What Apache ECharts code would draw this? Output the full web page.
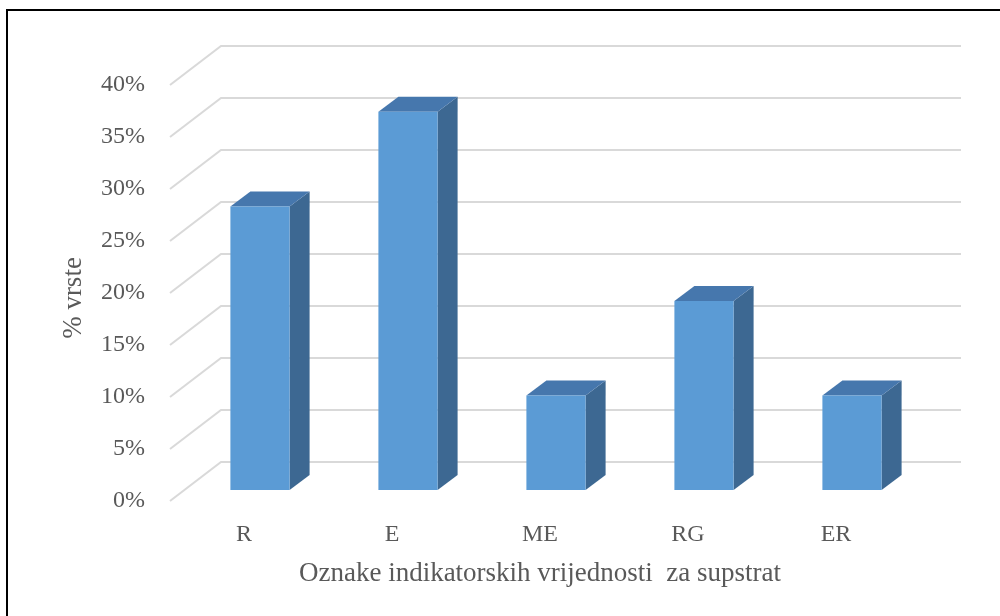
<!DOCTYPE html>
<html lang="hr">
<head>
    <meta charset="UTF-8">
    <title>vrste</title>
    <script src="https://cdn.jsdelivr.net/npm/echarts@6/dist/echarts.min.js"></script>
    <style>
        html, body { margin: 0; padding: 0; background: #fff; }
    </style>
</head>
<body>
<div id="main" style="width: 1000px;height:616px;"></div>
<script type="text/javascript">
    // podaci
    var categories = ['R', 'E', 'ME', 'RG', 'ER'];
    var values = [27.27, 36.36, 9.09, 18.18, 9.09];
    var yTicks = [0, 5, 10, 15, 20, 25, 30, 35, 40];

    var textColor = '#595959';
    var fontName = 'Liberation Serif';

    var myChart = echarts.init(document.getElementById('main'));

    // zid i pod (3D mreza)
    function renderWall(params, api) {
        var cs = params.coordSys;
        var y = api.coord([0, api.value(0)])[1];
        var left = cs.x, right = cs.x + cs.width;
        return {
            type: 'polyline',
            shape: { points: [[left, y], [left + 51, y - 39], [right + 51, y - 39]] },
            style: { stroke: '#d9d9d9', lineWidth: 2, fill: null },
            silent: true
        };
    }

    // 3D stupci
    function renderBar(params, api) {
        var top = api.coord([api.value(0), api.value(1)]);
        var base = api.coord([api.value(0), 0]);
        var w = api.size([1, 0])[0] * 0.4;
        var ox = 16, oy = -11;   // pomak prednje plohe
        var dx = 20, dy = -15;   // dubina stupca
        var x0 = top[0] - w / 2 + ox, x1 = top[0] + w / 2 + ox;
        var yt = top[1] + oy, yb = base[1] + oy;
        return {
            type: 'group',
            children: [
                {
                    type: 'polygon',
                    shape: { points: [[x1, yt], [x1 + dx, yt + dy], [x1 + dx, yb + dy], [x1, yb]] },
                    style: { fill: '#3d6892' }
                },
                {
                    type: 'polygon',
                    shape: { points: [[x0, yt], [x0 + dx, yt + dy], [x1 + dx, yt + dy], [x1, yt]] },
                    style: { fill: '#4677ad' }
                },
                {
                    type: 'rect',
                    shape: { x: x0, y: yt, width: x1 - x0, height: yb - yt },
                    style: { fill: '#5b9bd5' }
                }
            ]
        };
    }

    var option = {
        animation: false,
        backgroundColor: '#fff',
        grid: { left: 170, right: 90, top: 85, bottom: 115 },
        graphic: [{
            type: 'rect',
            shape: { x: 7, y: 10, width: 1100, height: 700 },
            style: { fill: null, stroke: '#000', lineWidth: 2 },
            silent: true
        }],
        xAxis: {
            type: 'category',
            data: categories,
            name: 'Oznake indikatorskih vrijednosti  za supstrat',
            nameLocation: 'middle',
            nameGap: 59,
            nameTextStyle: { fontFamily: fontName, fontSize: 27, color: textColor },
            axisLine: { show: false },
            axisTick: { show: false },
            axisLabel: { fontFamily: fontName, fontSize: 24, color: textColor, margin: 22 },
            splitLine: { show: false }
        },
        yAxis: {
            type: 'value',
            min: 0,
            max: 40,
            interval: 5,
            name: '% vrste',
            nameLocation: 'middle',
            nameGap: 83,
            nameTextStyle: { fontFamily: fontName, fontSize: 27, color: textColor, padding: [0, 10, 0, 0] },
            axisLine: { show: false },
            axisTick: { show: false },
            axisLabel: { formatter: '{value}%', fontFamily: fontName, fontSize: 24, color: textColor, margin: 25, padding: [5, 0, 0, 0] },
            splitLine: { show: false }
        },
        series: [
            {
                type: 'custom',
                renderItem: renderWall,
                data: yTicks.map(function (v) { return [v]; }),
                encode: { y: 0 },
                z: 1,
                silent: true
            },
            {
                type: 'custom',
                renderItem: renderBar,
                data: values.map(function (v, i) { return [i, v]; }),
                encode: { x: 0, y: 1 },
                z: 2
            }
        ]
    };
    myChart.setOption(option);
</script>
</body>
</html>
